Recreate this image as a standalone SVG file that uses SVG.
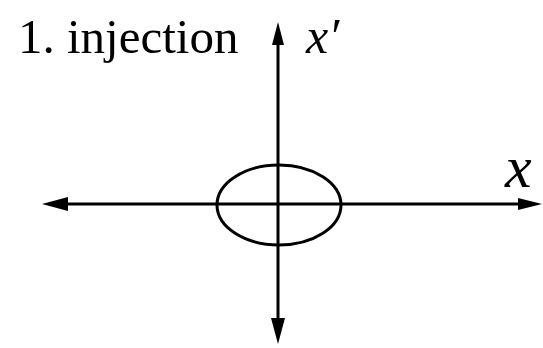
<svg xmlns="http://www.w3.org/2000/svg" width="543" height="348" viewBox="0 0 543 348">
<rect width="543" height="348" fill="#fff"/>
<g id="connectors" stroke="#000" stroke-width="3" fill="none">
<line x1="66" y1="204" x2="520" y2="204"/>
<line x1="278" y1="42" x2="278" y2="322"/>
</g>
<g id="arrowheads" fill="#000">
<polygon points="42,204 68,197 68,211"/>
<polygon points="542,204 518,198 518,210"/>
<polygon points="278,22 272,45 284,45"/>
<polygon points="278,344 271,318 285,318"/>
</g>
<g id="ellipse">
<ellipse cx="279" cy="205" rx="62" ry="40" stroke="#000" stroke-width="3" fill="none"/>
</g>
<text x="18" y="53" font-size="49" font-family="'Liberation Serif'">1. injection</text>
<text x="306" y="53" font-size="50" font-family="'Liberation Serif'" font-style="italic">x′</text>
<text x="505" y="187" font-size="60" font-family="'Liberation Serif'" font-style="italic">x</text>
</svg>
